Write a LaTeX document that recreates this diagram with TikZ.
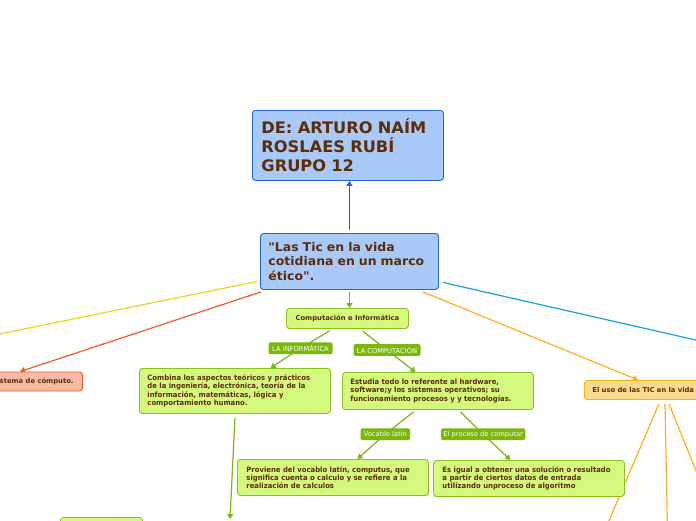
\documentclass[tikz,border=0pt]{standalone}
\usepackage{fontspec}
\setmainfont{DejaVu Sans}[Ligatures=TeXOff]
\newfontfamily\titlefnt{DejaVu Sans}[FakeStretch=1.02,Ligatures=TeXOff]
\newfontfamily\midfnt{DejaVu Sans}[FakeStretch=1.04,Ligatures=TeXOff]
\newfontfamily\smallfnt{DejaVu Sans}[FakeStretch=0.94,Ligatures=TeXOff]
\usetikzlibrary{arrows.meta,backgrounds,calc}
\definecolor{txtbrown}{HTML}{5B2C06}
\definecolor{bluefill}{HTML}{A9CAF9}
\definecolor{blueborder}{HTML}{2464D4}
\definecolor{blueline}{HTML}{1E64D2}
\definecolor{greenfill}{HTML}{D5F97F}
\definecolor{greenborder}{HTML}{8AC21C}
\definecolor{glinec}{HTML}{7DB51A}
\definecolor{lblgreen}{HTML}{7CB80B}
\definecolor{redfill}{HTML}{F9BBA6}
\definecolor{redborder}{HTML}{F2592A}
\definecolor{yellowc}{HTML}{E6D71C}
\definecolor{cyanc}{HTML}{12A2E8}
\definecolor{orangec}{HTML}{FBB117}
\definecolor{orangefill}{HTML}{FFDB8E}
\definecolor{orangeborder}{HTML}{F7B21B}
\begin{document}
\begin{tikzpicture}[x=1pt,y=-1pt,
  box/.style={draw, rounded corners=3pt, line width=0.9pt, anchor=north west, align=left,
    text=txtbrown, font=\bfseries\fontsize{6.8}{8.3}\selectfont, inner ysep=0pt},
  smalltext/.style={font=\smallfnt\bfseries\fontsize{7.3}{8.3}\selectfont},
  bluebox/.style={box, fill=bluefill, draw=blueborder},
  greenbox/.style={box, fill=greenfill, draw=greenborder},
  lbl/.style={fill=lblgreen, text=white, rounded corners=1.5pt,
    font=\fontsize{6.7}{8}\selectfont, inner sep=0pt, minimum height=11.7pt},
  conn/.style={line width=1.2pt},
  tip/.style={-{Triangle[width=6pt,length=5pt]}}]
\useasboundingbox (0,0) rectangle (696,520);
\clip (0,0) rectangle (696,520);

% nodes
\node[bluebox, inner xsep=9pt, text width=173pt, minimum height=70pt,
  font=\titlefnt\bfseries\fontsize{15.9}{19.2}\selectfont] (author) at (252,110)
  {\mbox{DE: ARTURO NAÍM}\\\mbox{ROSLAES RUBÍ}\\\mbox{GRUPO 12}};
\node[bluebox, inner xsep=8pt, text width=162pt, minimum height=56pt,
  font=\midfnt\bfseries\fontsize{12}{14.8}\selectfont] (main) at (260,233)
  {\mbox{"Las Tic en la vida}\\\mbox{cotidiana en un marco}\\\mbox{ético".}};
\node[greenbox, align=center, inner xsep=0pt, minimum width=122pt, minimum height=20pt] (comp) at (286,308)
  {Computación e Informática};
\node[greenbox, smalltext, inner xsep=8pt, text width=175pt, minimum height=45pt] (combina) at (139,368)
  {\mbox{Combina los aspectos teóricos y prácticos}\\\mbox{de la ingeniería, electrónica, teoría de la}\\\mbox{información, matemáticas, lógica y}\\\mbox{comportamiento humano.}};
\node[greenbox, smalltext, inner xsep=8pt, text width=175pt, minimum height=37pt] (estudia) at (342,372)
  {\mbox{Estudia todo lo referente al hardware,}\\\mbox{software;y los sistemas operativos; su}\\\mbox{funcionamiento procesos y y tecnologías.}};
\node[greenbox, smalltext, inner xsep=9pt, text width=173pt, minimum height=36pt] (proviene) at (237,459)
  {\mbox{Proviene del vocablo latín, computus, que}\\\mbox{significa cuenta o calculo y se refiere a la}\\\mbox{realización de calculos}};
\node[greenbox, smalltext, inner xsep=9pt, text width=173pt, minimum height=36pt] (esigual) at (433,460)
  {\mbox{Es igual a obtener una solución o resultado}\\\mbox{a partir de ciertos datos de entrada}\\\mbox{utilizando unproceso de algoritmo}};
\node[box, fill=redfill, draw=redborder, anchor=east, inner xsep=9pt, minimum height=19pt] (sys) at (83,381.5)
  {stema de cómputo.};
\node[box, fill=orangefill, draw=orangeborder, inner xsep=8pt, text width=140pt, minimum height=19pt] (uso) at (584,380)
  {El uso de las TIC en la vida};
\node[greenbox, minimum width=82pt, minimum height=20pt] (low) at (60,517) {};

\node[lbl, minimum width=64pt] (linfo) at (300.5,348.3) {LA INFORMÁTICA};
\node[lbl, minimum width=67pt] (lcomp) at (387,350) {LA COMPUTACIÓN};
\node[lbl, minimum width=49.5pt] (lvoc) at (385.3,434.2) {Vocablo latín};
\node[lbl, minimum width=84.3pt] (lproc) at (483.2,434.2) {El proceso de computar};

\coordinate (yend) at (-20,338);
\coordinate (cend) at (716,344.6);
\coordinate (o1end) at (605,530);
\coordinate (o2end) at (667.5,530);
\coordinate (o3end) at (720,530);
\coordinate (lowtip) at (230,519);

\begin{pgfonlayer}{background}
\fill[white] (0,0) rectangle (696,520);
\draw[conn, draw=blueline, tip] ([yshift=3pt]main.north) -- (main.north |- author.south);
\draw[conn, draw=glinec, tip] ([yshift=-2pt]main.south) -- (main.south |- comp.north);
\draw[conn, draw=glinec] ([xshift=-18pt,yshift=-2pt]comp.south) -- (linfo.center);
\draw[conn, draw=glinec, tip] (linfo.center) -- ([xshift=35.5pt]combina.north);
\draw[conn, draw=glinec] ([xshift=15pt,yshift=-2pt]comp.south) -- (lcomp.center);
\draw[conn, draw=glinec, tip] (lcomp.center) -- ([xshift=-22.5pt]estudia.north);
\draw[conn, draw=glinec] ([xshift=-24.5pt,yshift=-2pt]estudia.south) -- (lvoc.center);
\draw[conn, draw=glinec, tip] (lvoc.center) -- ([xshift=24.5pt]proviene.north);
\draw[conn, draw=glinec] ([xshift=22.5pt,yshift=-2pt]estudia.south) -- (lproc.center);
\draw[conn, draw=glinec, tip] (lproc.center) -- ([xshift=-18.5pt]esigual.north);
\draw[conn, draw=glinec, tip] ([yshift=-4pt]combina.south) -- (lowtip);
\draw[conn, draw=redborder, tip] ([xshift=1pt,yshift=-2pt]main.south west) -- ([xshift=-63pt]sys.north east);
\draw[conn, draw=yellowc] ([xshift=-3pt,yshift=-20pt]main.west) -- (yend);
\draw[conn, draw=cyanc] ([xshift=4pt,yshift=-21pt]main.east) -- (cend);
\draw[conn, draw=orangec, tip] ([xshift=-16pt,yshift=-2pt]main.south east) -- ([xshift=54pt]uso.north west);
\draw[conn, draw=orangec] ([xshift=75pt,yshift=-4pt]uso.south west) -- (o1end);
\draw[conn, draw=orangec] ([xshift=81pt,yshift=-4pt]uso.south west) -- (o2end);
\draw[conn, draw=orangec] ([xshift=85pt,yshift=-4pt]uso.south west) -- (o3end);
\end{pgfonlayer}
\end{tikzpicture}
\end{document}
